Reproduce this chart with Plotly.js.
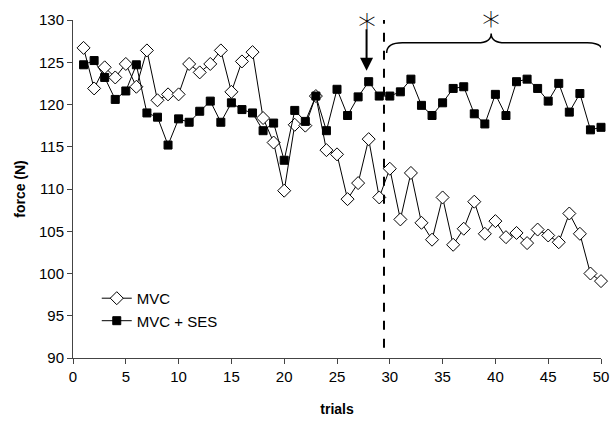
<!DOCTYPE html>
<html><head><meta charset="utf-8">
<script src="https://cdn.plot.ly/plotly-3.0.1.min.js"></script>
<style>html,body{margin:0;padding:0;background:#fff}#c{width:614px;height:434px}</style>
</head><body><div id="c"></div>
<script>
const trials = Array.from({length:50},(_,i)=>i+1);
const mvc = [126.7,121.9,124.4,123.2,124.8,122.1,126.4,120.5,121.2,121.2,
             124.8,123.8,124.8,126.4,121.5,125.1,126.2,118.4,115.5,109.8,
             117.6,117.5,121.0,114.6,114.1,108.8,110.7,115.9,109.0,112.4,
             106.4,111.9,106.0,104.0,109.0,103.4,105.3,108.5,104.7,106.2,
             104.3,104.8,103.6,105.2,104.5,103.7,107.1,104.7,100.0,99.1];
const mvcSes = [124.7,125.2,123.2,120.6,121.6,124.7,119.0,118.5,115.2,118.3,
                117.9,119.2,120.4,117.9,120.2,119.4,119.0,116.9,117.8,113.4,
                119.3,118.0,121.0,116.9,121.8,118.7,120.9,122.7,121.0,121.0,
                121.5,123.0,119.9,118.7,120.2,121.9,122.1,118.9,117.7,121.2,
                118.7,122.7,123.0,121.9,120.4,122.5,119.1,121.3,117.0,117.3];
const xTicks = [0,5,10,15,20,25,30,35,40,45,50];
const yTicks = [90,95,100,105,110,115,120,125,130];

const traces = [
 {x:trials,y:mvc,name:'MVC',mode:'lines+markers',cliponaxis:false,
  line:{color:'#000',width:1},
  marker:{symbol:'diamond',size:10,color:'#fff',line:{color:'#000',width:1}}},
 {x:trials,y:mvcSes,name:'MVC + SES',mode:'lines+markers',cliponaxis:false,
  line:{color:'#000',width:1},
  marker:{symbol:'square',size:8,color:'#000',line:{color:'#000',width:1}}}
];
const starFont = {family:'DejaVu Sans ExtraLight, DejaVu Sans, sans-serif',size:36,weight:200,color:'#000'};
const layout = {
 width:614,height:434,
 margin:{l:73,r:13,t:20,b:76},
 paper_bgcolor:'#fff',plot_bgcolor:'#fff',
 font:{family:'Liberation Sans, Arial, sans-serif',color:'#000',size:15},
 showlegend:true,
 legend:{x:0.045,y:0.225,xanchor:'left',yanchor:'top',bgcolor:'rgba(0,0,0,0)',
  font:{size:15},tracegroupgap:0},
 xaxis:{range:[0,50],tickvals:xTicks,ticks:'outside',ticklen:5,tickcolor:'#444',
  showline:true,linecolor:'#444',linewidth:1,showgrid:false,zeroline:false,
  title:{text:'<b>trials</b>',font:{size:14},standoff:20}},
 yaxis:{range:[90,130],tickvals:yTicks,ticks:'outside',ticklen:5,tickcolor:'#444',
  showline:true,linecolor:'#444',linewidth:1,showgrid:false,zeroline:false,
  title:{text:'<b>force (N)</b>',font:{size:14},standoff:10}},
 shapes:[
  {type:'line',xref:'x',yref:'y',x0:29.45,x1:29.45,y0:91.2,y1:131.5,
   line:{color:'#000',width:2,dash:'dash'}},
  {type:'path',xref:'x',yref:'y',
   path:'M 29.7,126.1 Q 29.7,127.3 31.2,127.3 L 38.3,127.3 Q 39.6,127.3 39.6,128.4 Q 39.6,127.3 40.9,127.3 L 48.7,127.3 Q 50.2,127.3 50.2,126.1',
   line:{color:'#000',width:1.5}}
 ],
 annotations:[
  {x:27.8,y:124.0,xref:'x',yref:'y',text:'',showarrow:true,arrowhead:2,arrowsize:1.3,
   arrowwidth:2,arrowcolor:'#000',ax:0,ay:-43},
  {x:27.8,y:1.047,xref:'x',yref:'paper',text:'*',showarrow:false,font:starFont,yanchor:'top'},
  {x:39.6,y:1.053,xref:'x',yref:'paper',text:'*',showarrow:false,font:starFont,yanchor:'top'}
 ]
};
Plotly.newPlot('c',traces,layout,{displayModeBar:false,staticPlot:true});
</script></body></html>
